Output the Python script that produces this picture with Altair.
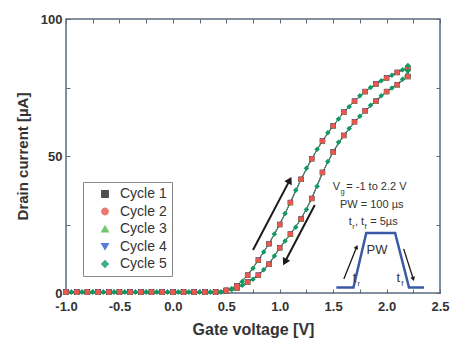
import altair as alt
import pandas as pd

# ---------------- data ----------------
CYCLES = ["Cycle 1", "Cycle 2", "Cycle 3", "Cycle 4", "Cycle 5"]
COLORS = ["#222222", "#e8584f", "#4dbb4d", "#2d5fd0", "#0f9a62"]
SHAPES = ["square", "circle", "triangle-up", "triangle-down", "diamond"]

# cycles 1-4 (sampled on the 0.1 V grid)
V_A_UP = [-1.0, -0.9, -0.8, -0.7, -0.6, -0.5, -0.4, -0.3, -0.2, -0.1, 0.0, 0.1, 0.2, 0.3, 0.4,
          0.5, 0.6, 0.7, 0.8, 0.9, 1.0, 1.1, 1.2, 1.3, 1.4, 1.5, 1.6, 1.7, 1.8, 1.9, 2.0, 2.1, 2.2]
I_A_UP = [0.4, 0.4, 0.4, 0.4, 0.4, 0.4, 0.4, 0.4, 0.4, 0.4, 0.4, 0.4, 0.4, 0.4, 0.4,
          1.0, 2.6, 6.5, 12.0, 18.0, 25.0, 33.0, 41.5, 49.0, 55.5, 61.0, 66.0, 70.0, 73.5, 76.3, 78.5, 80.5, 82.0]
V_A_DOWN = [2.2, 2.1, 2.0, 1.9, 1.8, 1.7, 1.6, 1.5, 1.4, 1.3, 1.2, 1.1, 1.0, 0.9, 0.8, 0.7, 0.6, 0.5,
            0.4, 0.3, 0.2, 0.1, 0.0, -0.1, -0.2, -0.3, -0.4, -0.5, -0.6, -0.7, -0.8, -0.9, -1.0]
I_A_DOWN = [79.0, 76.0, 73.5, 70.0, 66.5, 62.5, 57.5, 51.5, 44.0, 34.5, 27.0, 21.5, 16.5, 10.5, 6.5, 4.0, 1.8, 0.8,
            0.4, 0.4, 0.4, 0.4, 0.4, 0.4, 0.4, 0.4, 0.4, 0.4, 0.4, 0.4, 0.4, 0.4, 0.4]

# cycle 5 (markers between those of the other cycles)
V_B_UP = [-0.95, -0.85, -0.75, -0.65, -0.55, -0.45, -0.35, -0.25, -0.15, -0.05, 0.05, 0.15, 0.25, 0.35, 0.45,
          0.55, 0.65, 0.75, 0.85, 0.95, 1.05, 1.15, 1.25, 1.35, 1.45, 1.55, 1.65, 1.75, 1.85, 1.95, 2.05, 2.15, 2.2]
I_B_UP = [0.4, 0.4, 0.4, 0.4, 0.4, 0.4, 0.4, 0.4, 0.4, 0.4, 0.4, 0.4, 0.4, 0.4, 0.4,
          1.6, 4.2, 9.0, 15.0, 21.5, 29.0, 37.5, 45.5, 52.5, 58.5, 63.5, 68.0, 72.0, 75.0, 77.5, 79.5, 81.5, 83.0]
V_B_DOWN = [2.2, 2.15, 2.05, 1.95, 1.85, 1.75, 1.65, 1.55, 1.45, 1.35, 1.25, 1.15, 1.05, 0.95, 0.85, 0.75, 0.65, 0.55,
            0.45, 0.35, 0.25, 0.15, 0.05, -0.05, -0.15, -0.25, -0.35, -0.45, -0.55, -0.65, -0.75, -0.85, -0.95]
I_B_DOWN = [81.0, 78.0, 74.8, 72.0, 68.5, 64.5, 60.0, 55.0, 48.0, 39.0, 30.5, 24.0, 19.0, 13.5, 8.5, 5.0, 2.8, 1.2,
            0.4, 0.4, 0.4, 0.4, 0.4, 0.4, 0.4, 0.4, 0.4, 0.4, 0.4, 0.4, 0.4, 0.4, 0.4]

X_TICKS = [-1.0, -0.75, -0.5, -0.25, 0.0, 0.25, 0.5, 0.75, 1.0, 1.25, 1.5, 1.75, 2.0, 2.25, 2.5]
Y_TICKS = [0, 25, 50, 75, 100]

# annotations (data coordinates); \u00a0 keeps room for the subscripts
INFO_TEXT = ["V\u00a0 = -1 to 2.2 V", "PW = 100 µs", "t\u00a0, t\u00a0 = 5µs"]
INFO_X = [1.497, 1.564, 1.647]
INFO_Y = [38.7, 32.1, 25.9]
SUB_TEXT = ["g", "r", "f"]
SUB_X = [1.497, 1.647, 1.647]
SUB_Y = [38.7, 25.9, 25.9]
SUB_DX = [7.6, 3.3, 15.6]

PULSE_V = [1.53, 1.69, 1.81, 2.08, 2.21, 2.35]
PULSE_I = [2.0, 2.0, 21.9, 21.9, 2.0, 2.0]
PULSE_LABEL = ["PW", "t", "t"]
PULSE_LABEL_X = [1.91, 1.70, 2.11]
PULSE_LABEL_Y = [15.7, 5.6, 5.6]
PULSE_SUB = ["r", "f"]
PULSE_SUB_X = [1.70, 2.11]
PULSE_SUB_Y = [5.6, 5.6]

ARROW_X = [0.75, 1.328, 1.60, 2.16]
ARROW_Y = [15.7, 32.1, 5.1, 16.1]
ARROW_X2 = [1.094, 1.048, 1.72, 2.25]
ARROW_Y2 = [41.2, 11.3, 16.8, 5.1]
ARROW_ANGLE = [28, 208, 22, 162]
ARROW_W = [2.0, 2.0, 1.3, 1.3]
ARROW_HEAD = [70, 70, 22, 22]

# ---------------- tables ----------------
rows = []
draw_order = ["Cycle 1", "Cycle 3", "Cycle 4", "Cycle 2", "Cycle 5"]
for c in draw_order:
    if c == "Cycle 5":
        vs = V_B_UP + V_B_DOWN
        cs = I_B_UP + I_B_DOWN
    else:
        vs = V_A_UP + V_A_DOWN
        cs = I_A_UP + I_A_DOWN
    for k, (v, i) in enumerate(zip(vs, cs)):
        rows.append({"cycle": c, "V": v, "I": i, "idx": k})
df = pd.DataFrame(rows)

info_df = pd.DataFrame({"t": INFO_TEXT, "x": INFO_X, "y": INFO_Y})
pulse_df = pd.DataFrame({"x": PULSE_V, "y": PULSE_I, "k": list(range(len(PULSE_V)))})
plabel_df = pd.DataFrame({"t": PULSE_LABEL, "x": PULSE_LABEL_X, "y": PULSE_LABEL_Y})
psub_df = pd.DataFrame({"t": PULSE_SUB, "x": PULSE_SUB_X, "y": PULSE_SUB_Y})
arrow_df = pd.DataFrame({"x": ARROW_X, "y": ARROW_Y, "x2": ARROW_X2, "y2": ARROW_Y2,
                         "a": ARROW_ANGLE, "w": ARROW_W, "h": ARROW_HEAD})

FONT = "Liberation Sans"
AXIS_COL = "#5b6b7d"
TXT = "#333333"

xs = alt.Scale(domain=[-1.0, 2.5], nice=False, zero=False)
ys = alt.Scale(domain=[0, 100], nice=False, zero=False)

x_label_expr = ("abs(datum.value*2 - round(datum.value*2)) < 0.001 ? "
                "replace(format(datum.value, '.1f'), '\u2212', '-') : ''")
y_label_expr = "datum.value % 50 == 0 ? format(datum.value, 'd') : ''"

ax_bottom = alt.Axis(orient="bottom", values=X_TICKS, labelExpr=x_label_expr, title="Gate voltage [V]",
                     domain=False, grid=False, tickSize=4, offset=-4, tickColor=AXIS_COL, tickWidth=1,
                     labelPadding=7, labelFont=FONT, labelFontSize=13, labelFontWeight="bold",
                     labelColor=TXT, titleFont=FONT, titleFontSize=16, titleFontWeight="bold",
                     titleColor=TXT, titlePadding=8, labelFlush=False)
ax_left = alt.Axis(orient="left", values=Y_TICKS, labelExpr=y_label_expr, title="Drain current [µA]",
                   domain=False, grid=False, tickSize=4, offset=-4, tickColor=AXIS_COL, tickWidth=1,
                   labelPadding=4, labelFont=FONT, labelFontSize=13, labelFontWeight="bold",
                   labelColor=TXT, titleFont=FONT, titleFontSize=15, titleFontWeight="bold",
                   titleColor=TXT, titlePadding=10, labelFlush=False)
ax_top = alt.Axis(orient="top", values=X_TICKS, labels=False, title=None, domain=False, grid=False,
                  tickSize=4, offset=-4, tickColor=AXIS_COL, tickWidth=1)
ax_right = alt.Axis(orient="right", values=Y_TICKS, labels=False, title=None, domain=False, grid=False,
                    tickSize=4, offset=-4, tickColor=AXIS_COL, tickWidth=1)

color_scale = alt.Scale(domain=CYCLES, range=COLORS)
shape_scale = alt.Scale(domain=CYCLES, range=SHAPES)
legend = alt.Legend(title=None, orient="none", legendX=17, legendY=163, strokeColor="#8a8a8a",
                    padding=5, labelFont=FONT, labelFontSize=14, labelColor=TXT, symbolSize=40,
                    symbolOffset=10, labelOffset=8, rowPadding=3.5, fillColor="white")

lines = alt.Chart(df).mark_line(strokeWidth=1, clip=False, opacity=0.8).encode(
    x=alt.X("V:Q", scale=xs, axis=ax_bottom),
    y=alt.Y("I:Q", scale=ys, axis=ax_left),
    color=alt.Color("cycle:N", scale=color_scale, legend=legend),
    order=alt.Order("idx:Q"),
)

points = alt.Chart(df).mark_point(filled=True, size=30, opacity=1, clip=False).encode(
    x=alt.X("V:Q", scale=xs, axis=ax_top),
    y=alt.Y("I:Q", scale=ys, axis=ax_right),
    color=alt.Color("cycle:N", scale=color_scale, legend=legend),
    shape=alt.Shape("cycle:N", scale=shape_scale, legend=legend),
)

info = alt.Chart(info_df).mark_text(align="left", baseline="middle", font=FONT, fontSize=11,
                                     color=TXT).encode(
    x=alt.X("x:Q", scale=xs, axis=None), y=alt.Y("y:Q", scale=ys, axis=None), text="t:N")

sub_layers = []
for t, x, y, dx in zip(SUB_TEXT, SUB_X, SUB_Y, SUB_DX):
    sub_layers.append(
        alt.Chart(pd.DataFrame({"t": [t], "x": [x], "y": [y]})).mark_text(
            align="left", baseline="middle", font=FONT, fontSize=7.5, color=TXT, dx=dx, dy=5
        ).encode(x=alt.X("x:Q", scale=xs, axis=None), y=alt.Y("y:Q", scale=ys, axis=None), text="t:N")
    )

pulse = alt.Chart(pulse_df).mark_line(color="#3a5aa8", strokeWidth=2.5, clip=False).encode(
    x=alt.X("x:Q", scale=xs, axis=None), y=alt.Y("y:Q", scale=ys, axis=None), order="k:Q")

plabels = alt.Chart(plabel_df).mark_text(align="center", baseline="middle", font=FONT, fontSize=13,
                                          color=TXT).encode(
    x=alt.X("x:Q", scale=xs, axis=None), y=alt.Y("y:Q", scale=ys, axis=None), text="t:N")

psubs = alt.Chart(psub_df).mark_text(align="left", baseline="middle", font=FONT, fontSize=7.5,
                                      color=TXT, dx=3, dy=6).encode(
    x=alt.X("x:Q", scale=xs, axis=None), y=alt.Y("y:Q", scale=ys, axis=None), text="t:N")

shafts = alt.Chart(arrow_df).mark_rule(color="#1a1a1a").encode(
    x=alt.X("x:Q", scale=xs, axis=None), y=alt.Y("y:Q", scale=ys, axis=None),
    x2="x2:Q", y2="y2:Q", strokeWidth=alt.StrokeWidth("w:Q", scale=None))

heads = alt.Chart(arrow_df).mark_point(shape="triangle-up", filled=True, color="#1a1a1a",
                                       opacity=1).encode(
    x=alt.X("x2:Q", scale=xs, axis=None), y=alt.Y("y2:Q", scale=ys, axis=None),
    angle=alt.Angle("a:Q", scale=None), size=alt.Size("h:Q", scale=None))

chart = alt.layer(lines, points, info, *sub_layers, pulse, plabels, psubs, shafts, heads).resolve_axis(
    x="independent", y="independent"
).properties(
    width=374, height=274,
    autosize=alt.AutoSizeParams(type="none"),
    padding={"left": 66, "top": 19, "right": 14, "bottom": 52},
    background="white",
).configure_view(
    stroke=AXIS_COL, strokeWidth=1.5
)

chart.save("out.html", embed_options={"renderer": "svg", "actions": False})
